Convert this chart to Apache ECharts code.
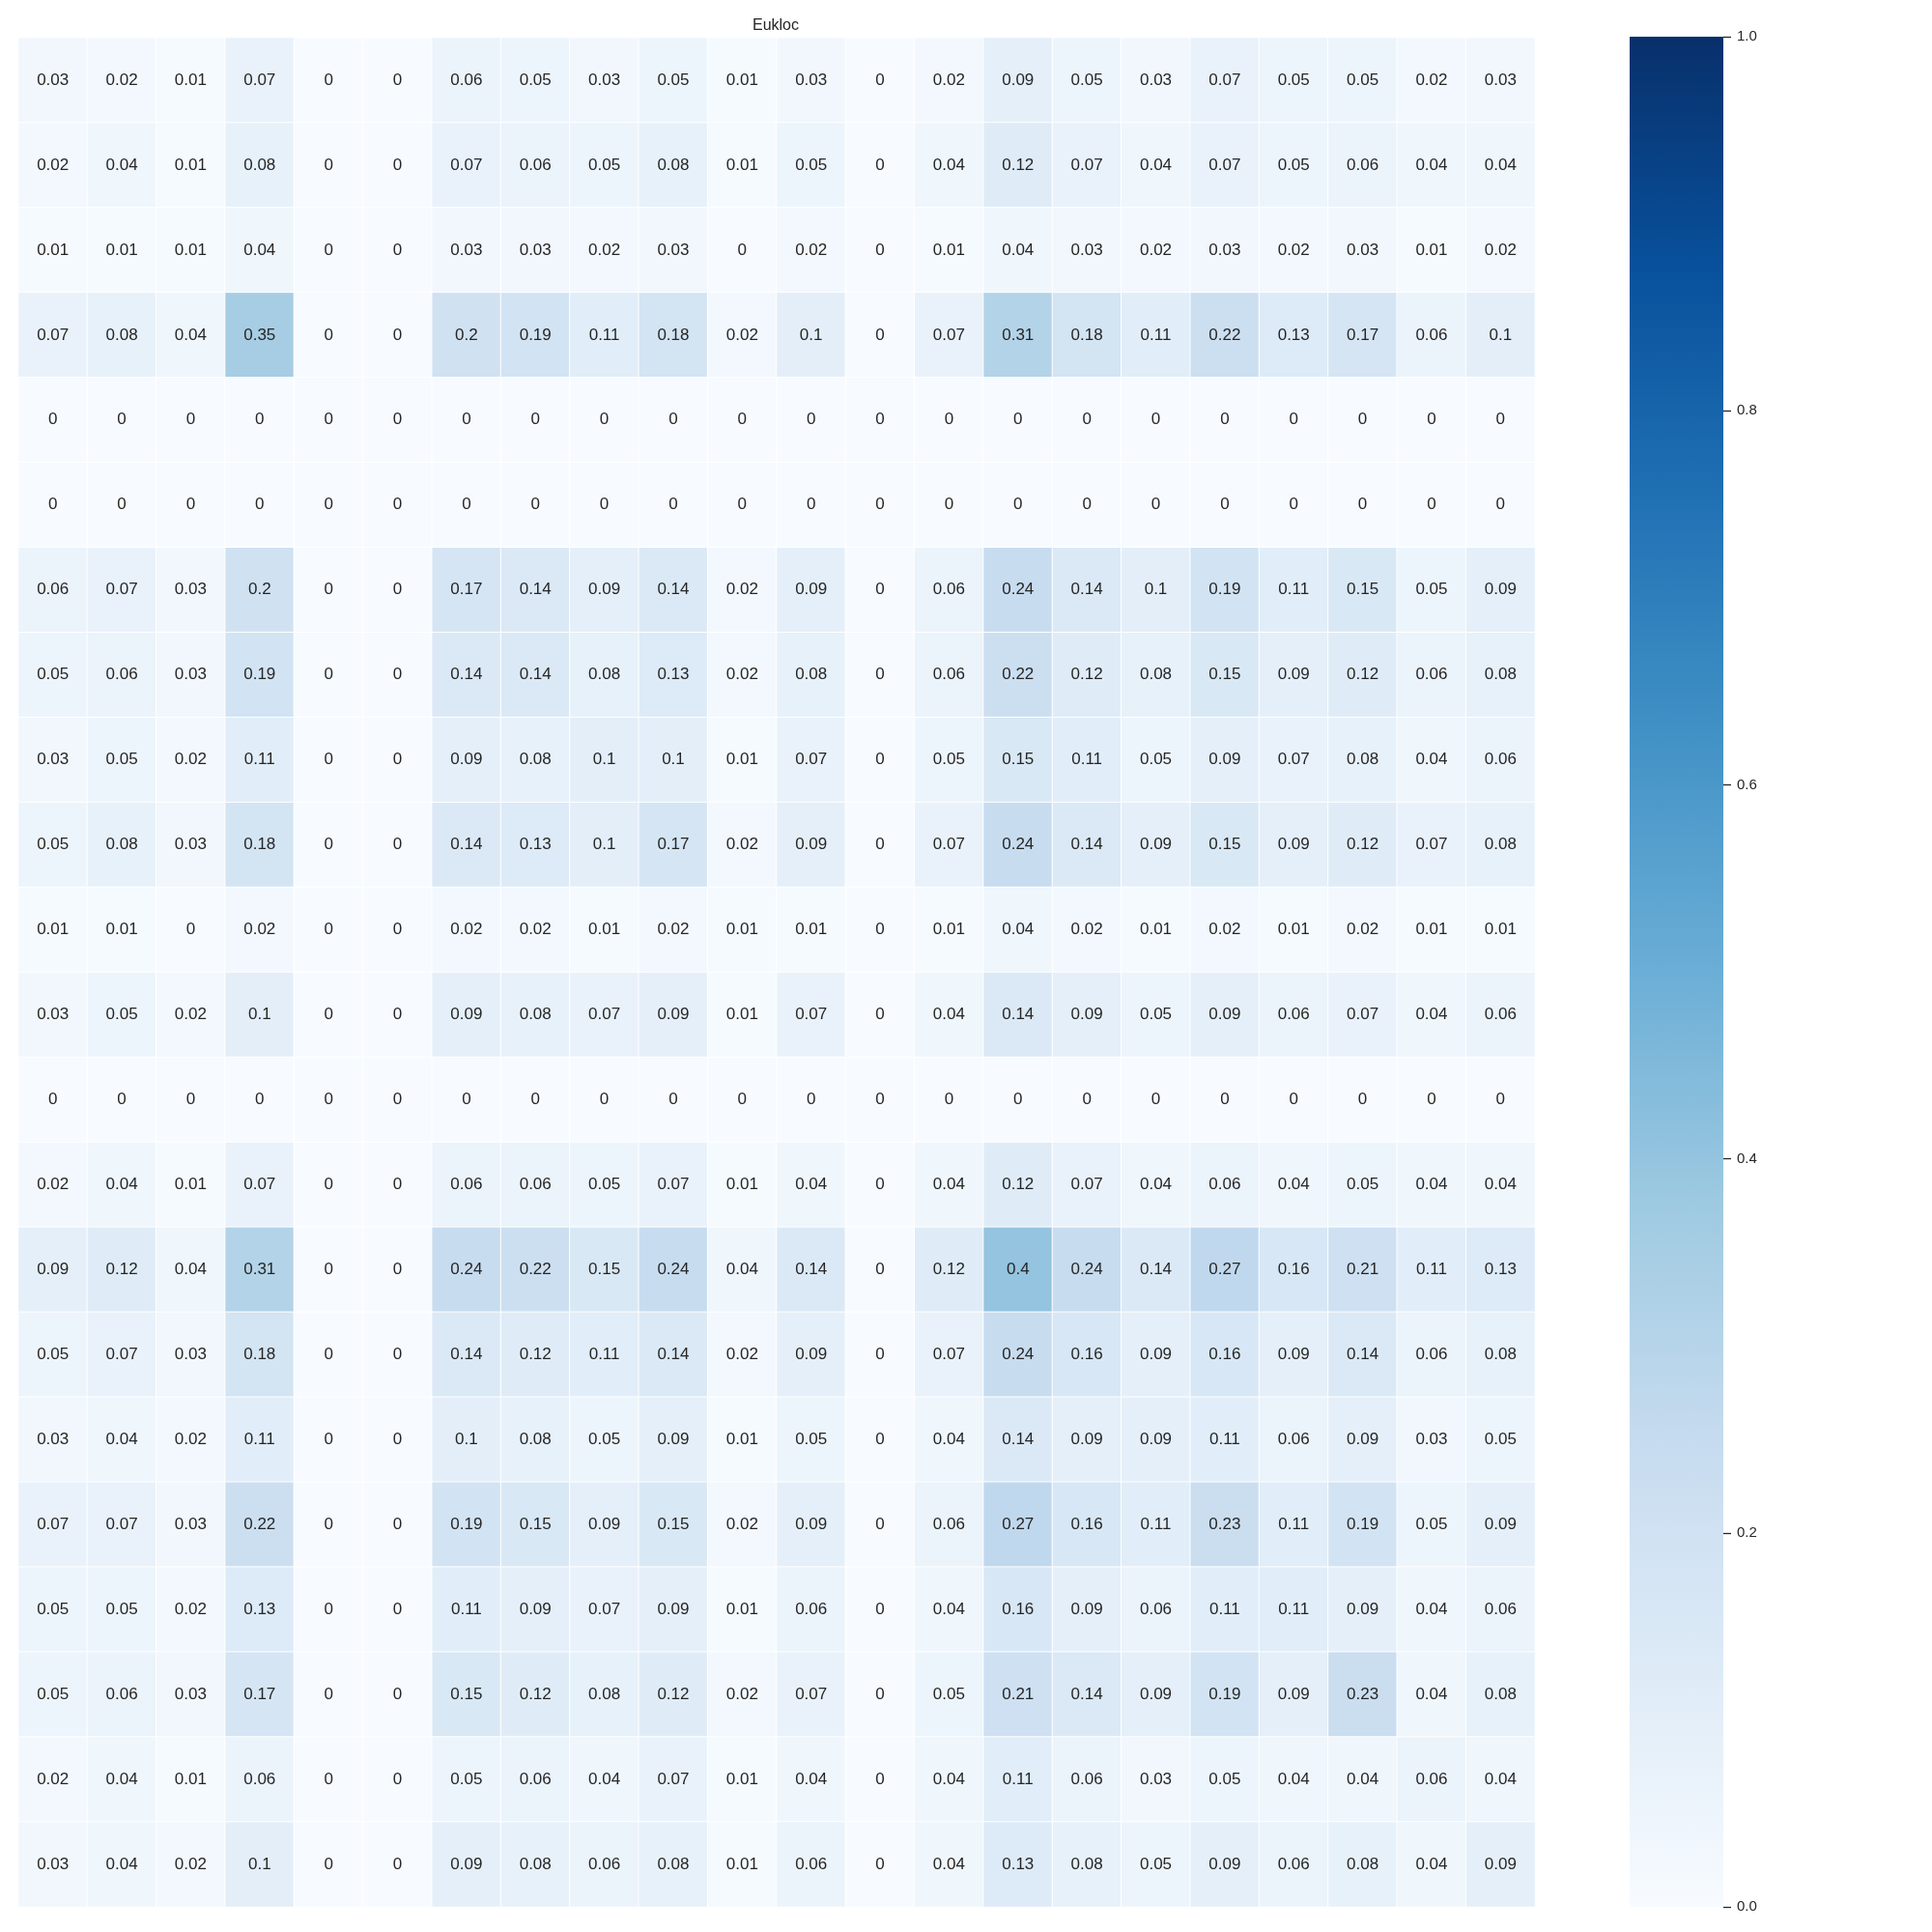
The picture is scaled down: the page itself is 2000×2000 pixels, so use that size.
<!DOCTYPE html>
<html>
<head>
<meta charset="utf-8">
<title>Eukloc</title>
<script src="https://cdn.jsdelivr.net/npm/echarts@6/dist/echarts.min.js"></script>
<style>
  html, body { margin: 0; padding: 0; background: #fff; }
  #chart { width: 2000px; height: 2000px; }
</style>
</head>
<body>
<div id="chart"></div>
<script>
// 22 x 22 matrix, rows top to bottom
var rowNames = [];
var colNames = [];
for (var i = 0; i < 22; i++) { rowNames.push('r' + i); colNames.push('c' + i); }

var values = [
  [0.03, 0.02, 0.01, 0.07, 0, 0, 0.06, 0.05, 0.03, 0.05, 0.01, 0.03, 0, 0.02, 0.09, 0.05, 0.03, 0.07, 0.05, 0.05, 0.02, 0.03],
  [0.02, 0.04, 0.01, 0.08, 0, 0, 0.07, 0.06, 0.05, 0.08, 0.01, 0.05, 0, 0.04, 0.12, 0.07, 0.04, 0.07, 0.05, 0.06, 0.04, 0.04],
  [0.01, 0.01, 0.01, 0.04, 0, 0, 0.03, 0.03, 0.02, 0.03, 0, 0.02, 0, 0.01, 0.04, 0.03, 0.02, 0.03, 0.02, 0.03, 0.01, 0.02],
  [0.07, 0.08, 0.04, 0.35, 0, 0, 0.2, 0.19, 0.11, 0.18, 0.02, 0.1, 0, 0.07, 0.31, 0.18, 0.11, 0.22, 0.13, 0.17, 0.06, 0.1],
  [0, 0, 0, 0, 0, 0, 0, 0, 0, 0, 0, 0, 0, 0, 0, 0, 0, 0, 0, 0, 0, 0],
  [0, 0, 0, 0, 0, 0, 0, 0, 0, 0, 0, 0, 0, 0, 0, 0, 0, 0, 0, 0, 0, 0],
  [0.06, 0.07, 0.03, 0.2, 0, 0, 0.17, 0.14, 0.09, 0.14, 0.02, 0.09, 0, 0.06, 0.24, 0.14, 0.1, 0.19, 0.11, 0.15, 0.05, 0.09],
  [0.05, 0.06, 0.03, 0.19, 0, 0, 0.14, 0.14, 0.08, 0.13, 0.02, 0.08, 0, 0.06, 0.22, 0.12, 0.08, 0.15, 0.09, 0.12, 0.06, 0.08],
  [0.03, 0.05, 0.02, 0.11, 0, 0, 0.09, 0.08, 0.1, 0.1, 0.01, 0.07, 0, 0.05, 0.15, 0.11, 0.05, 0.09, 0.07, 0.08, 0.04, 0.06],
  [0.05, 0.08, 0.03, 0.18, 0, 0, 0.14, 0.13, 0.1, 0.17, 0.02, 0.09, 0, 0.07, 0.24, 0.14, 0.09, 0.15, 0.09, 0.12, 0.07, 0.08],
  [0.01, 0.01, 0, 0.02, 0, 0, 0.02, 0.02, 0.01, 0.02, 0.01, 0.01, 0, 0.01, 0.04, 0.02, 0.01, 0.02, 0.01, 0.02, 0.01, 0.01],
  [0.03, 0.05, 0.02, 0.1, 0, 0, 0.09, 0.08, 0.07, 0.09, 0.01, 0.07, 0, 0.04, 0.14, 0.09, 0.05, 0.09, 0.06, 0.07, 0.04, 0.06],
  [0, 0, 0, 0, 0, 0, 0, 0, 0, 0, 0, 0, 0, 0, 0, 0, 0, 0, 0, 0, 0, 0],
  [0.02, 0.04, 0.01, 0.07, 0, 0, 0.06, 0.06, 0.05, 0.07, 0.01, 0.04, 0, 0.04, 0.12, 0.07, 0.04, 0.06, 0.04, 0.05, 0.04, 0.04],
  [0.09, 0.12, 0.04, 0.31, 0, 0, 0.24, 0.22, 0.15, 0.24, 0.04, 0.14, 0, 0.12, 0.4, 0.24, 0.14, 0.27, 0.16, 0.21, 0.11, 0.13],
  [0.05, 0.07, 0.03, 0.18, 0, 0, 0.14, 0.12, 0.11, 0.14, 0.02, 0.09, 0, 0.07, 0.24, 0.16, 0.09, 0.16, 0.09, 0.14, 0.06, 0.08],
  [0.03, 0.04, 0.02, 0.11, 0, 0, 0.1, 0.08, 0.05, 0.09, 0.01, 0.05, 0, 0.04, 0.14, 0.09, 0.09, 0.11, 0.06, 0.09, 0.03, 0.05],
  [0.07, 0.07, 0.03, 0.22, 0, 0, 0.19, 0.15, 0.09, 0.15, 0.02, 0.09, 0, 0.06, 0.27, 0.16, 0.11, 0.23, 0.11, 0.19, 0.05, 0.09],
  [0.05, 0.05, 0.02, 0.13, 0, 0, 0.11, 0.09, 0.07, 0.09, 0.01, 0.06, 0, 0.04, 0.16, 0.09, 0.06, 0.11, 0.11, 0.09, 0.04, 0.06],
  [0.05, 0.06, 0.03, 0.17, 0, 0, 0.15, 0.12, 0.08, 0.12, 0.02, 0.07, 0, 0.05, 0.21, 0.14, 0.09, 0.19, 0.09, 0.23, 0.04, 0.08],
  [0.02, 0.04, 0.01, 0.06, 0, 0, 0.05, 0.06, 0.04, 0.07, 0.01, 0.04, 0, 0.04, 0.11, 0.06, 0.03, 0.05, 0.04, 0.04, 0.06, 0.04],
  [0.03, 0.04, 0.02, 0.1, 0, 0, 0.09, 0.08, 0.06, 0.08, 0.01, 0.06, 0, 0.04, 0.13, 0.08, 0.05, 0.09, 0.06, 0.08, 0.04, 0.09]
];

var colorbarTicks = [0, 0.2, 0.4, 0.6, 0.8, 1.0];

// matplotlib "Blues"
var blues = ['#f7fbff', '#deebf7', '#c6dbef', '#9ecae1', '#6baed6', '#4292c6', '#2171b5', '#08519c', '#08306b'];

var cells = [];
values.forEach(function (row, r) {
  row.forEach(function (v, c) {
    cells.push([c, r, v]);
  });
});

// colorbar gradient, bottom = 0, top = 1
var stops = blues.map(function (c, k) {
  return { offset: 1 - k / (blues.length - 1), color: c };
}).reverse();

var chart = echarts.init(document.getElementById('chart'));
var font = '"Liberation Sans", Arial, sans-serif';
var option = {
  backgroundColor: '#fff',
  animation: false,
  title: {
    text: 'Eukloc',
    left: 798,
    top: 14,
    textAlign: 'center',
    textStyle: { fontFamily: font, fontSize: 16, fontWeight: 'normal', color: '#262626' }
  },
  grid: [
    { left: 19, top: 39, width: 1570, height: 1935 },
    { left: 1687, top: 38, width: 97, height: 1936 }
  ],
  graphic: [{
    type: 'rect',
    left: 1687,
    top: 38,
    shape: { width: 97, height: 1936 },
    style: { fill: new echarts.graphic.LinearGradient(0, 0, 0, 1, stops) },
    silent: true,
    z: -1
  }],
  xAxis: [
    { type: 'category', data: colNames, gridIndex: 0, show: false },
    { type: 'category', data: ['bar'], gridIndex: 1, show: false }
  ],
  yAxis: [
    { type: 'category', data: rowNames, gridIndex: 0, inverse: true, show: false },
    {
      type: 'value', gridIndex: 1, position: 'right',
      min: 0, max: 1, interval: 0.2,
      axisLine: { show: false, onZero: false },
      splitLine: { show: false },
      axisTick: { show: true, inside: false, length: 8, lineStyle: { color: '#262626', width: 1.3 } },
      axisLabel: {
        margin: 14,
        fontFamily: font, fontSize: 15, color: '#262626',
        formatter: function (v) { return v.toFixed(1); }
      }
    }
  ],
  visualMap: {
    type: 'continuous',
    show: false,
    min: 0,
    max: 1,
    seriesIndex: 0,
    inRange: { color: blues }
  },
  series: [{
    type: 'heatmap',
    xAxisIndex: 0,
    yAxisIndex: 0,
    data: cells,
    itemStyle: { borderColor: '#fff', borderWidth: 1 },
    label: {
      show: true,
      fontFamily: font,
      fontSize: 17,
      color: '#262626',
      formatter: function (p) { return String(p.value[2]); }
    },
    emphasis: { disabled: true }
  }]
};
chart.setOption(option);
</script>
</body>
</html>
